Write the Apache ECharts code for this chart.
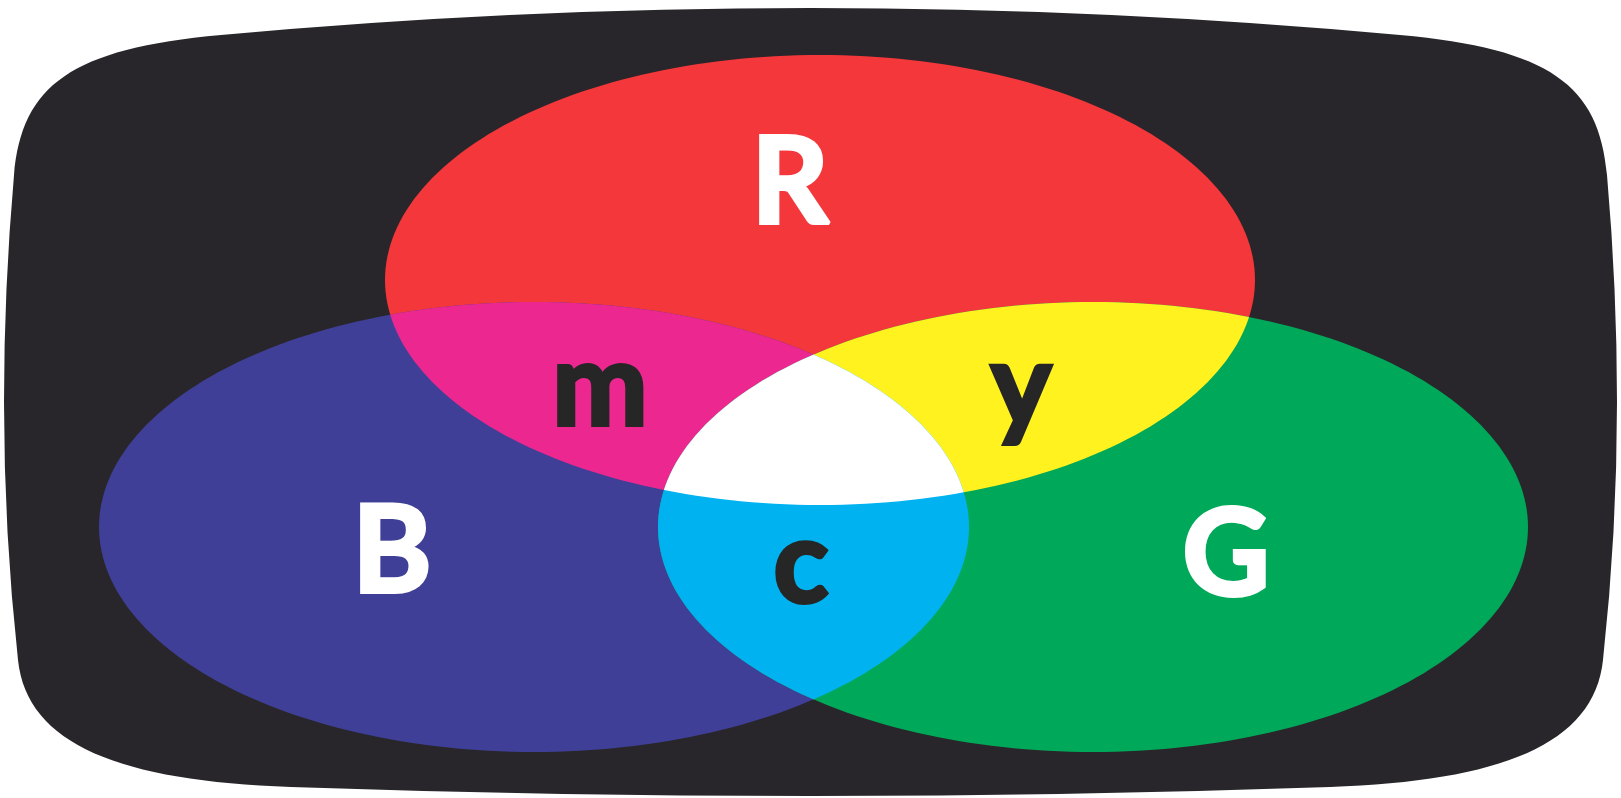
<!DOCTYPE html>
<html>
<head>
<meta charset="utf-8">
<script src="https://cdn.jsdelivr.net/npm/echarts@6/dist/echarts.min.js"></script>
<style>
html,body{margin:0;padding:0;background:#ffffff;}
#c{width:1621px;height:798px;}
</style>
</head>
<body>
<div id="c"></div>
<script>
// ---- data (units: positions on a 1621 x 798 plane) ----
const setNames = ['R', 'B', 'G'];
const setCenterX = [820, 534, 1093];
const setCenterY = [280, 527, 527];
const setRadiusX = [435, 435, 435];
const setRadiusY = [225, 225, 225];
const setColors = ['#F3373A', '#3F3F97', '#00A859'];

const overlapSets = [[0, 1], [0, 2], [1, 2], [0, 1, 2]];
const overlapColors = ['#EC2890', '#FFF21F', '#00B3F0', '#FFFFFF'];

const labelText = ['R', 'B', 'G', 'm', 'y', 'c'];
const labelX = [790, 392, 1226, 600, 1021, 801];
const labelY = [184, 553, 556, 388, 388, 565];
const labelIsUpper = [1, 1, 1, 0, 0, 0];

const frameBox = [4, 8, 1617, 796];

// ---- helpers ----
function ellipsePoly(c, s, n) {
  const pts = [];
  for (let k = 0; k < n; k++) {
    const t = 2 * Math.PI * k / n;
    pts.push([c[0] + s[0] * Math.cos(t), c[1] + s[1] * Math.sin(t)]);
  }
  return pts;
}
function cross(ax, ay, bx, by) { return ax * by - ay * bx; }
function clipPoly(subject, clipP) {
  let area = 0;
  const n = clipP.length;
  for (let i = 0; i < n; i++) {
    const a = clipP[i], b = clipP[(i + 1) % n];
    area += a[0] * b[1] - b[0] * a[1];
  }
  const sg = area > 0 ? 1 : -1;
  let out = subject;
  for (let i = 0; i < n; i++) {
    if (!out.length) break;
    const a = clipP[i], b = clipP[(i + 1) % n];
    const dx = b[0] - a[0], dy = b[1] - a[1];
    const inside = p => sg * cross(dx, dy, p[0] - a[0], p[1] - a[1]) >= 0;
    const inter = (p, q) => {
      const t = cross(dx, dy, a[0] - p[0], a[1] - p[1]) / cross(dx, dy, q[0] - p[0], q[1] - p[1]);
      return [p[0] + t * (q[0] - p[0]), p[1] + t * (q[1] - p[1])];
    };
    const inp = out;
    out = [];
    for (let j = 0; j < inp.length; j++) {
      const p = inp[j], q = inp[(j + 1) % inp.length];
      const pi = inside(p), qi = inside(q);
      if (pi) { out.push(p); if (!qi) out.push(inter(p, q)); }
      else if (qi) out.push(inter(p, q));
    }
  }
  return out;
}
function setPixelPoly(api, i) {
  const c = api.coord([setCenterX[i], setCenterY[i]]);
  const s = api.size([setRadiusX[i], setRadiusY[i]]);
  return ellipsePoly(c, [Math.abs(s[0]), Math.abs(s[1])], 240);
}

function framePath(api, box) {
  const x0 = box[0], y0 = box[1], x1 = box[2], y1 = box[3];
  const mx = (x0 + x1) / 2, my = (y0 + y1) / 2;
  const P = (x, y) => api.coord([x, y]);
  const M = x => x0 + x1 - x; // mirror
  const e1 = [x1 - 217, y0 + 27];
  const seg = [];
  seg.push(['Q', [(mx + e1[0]) / 2, y0], e1]);
  seg.push(['C', [x1 - 67, y0 + 40.7], [x1 - 18, y0 + 77], [x1 - 10, y0 + 167]]);
  seg.push(['Q', [x1, (y0 + 167 + my) / 2], [x1, my]]);
  seg.push(['Q', [x1, my + 130], [x1 - 14, y1 - 136]]);
  seg.push(['C', [x1 - 23, y1 - 51], [x1 - 117, y1 - 15], [x1 - 287, y1 - 9]]);
  seg.push(['Q', [(x1 - 287 + mx) / 2, y1], [mx, y1]]);
  let d = '';
  const p0 = P(mx, y0);
  d += 'M' + p0[0] + ' ' + p0[1];
  const fmt = pts => pts.map(q => { const c = P(q[0], q[1]); return c[0] + ' ' + c[1]; }).join(' ');
  seg.forEach(s => { d += ' ' + s[0] + fmt(s.slice(1)); });
  for (let k = seg.length - 1; k >= 0; k--) {
    const s = seg[k];
    const start = k === 0 ? [mx, y0] : seg[k - 1][seg[k - 1].length - 1];
    const ctrls = s.slice(1, s.length - 1).slice().reverse();
    const mapped = ctrls.concat([start]).map(q => [M(q[0]), q[1]]);
    d += ' ' + s[0] + fmt(mapped);
  }
  d += ' Z';
  return d;
}

// ---- chart ----
const chart = echarts.init(document.getElementById('c'));
const option = {
  animation: false,
  backgroundColor: '#ffffff',
  grid: { left: 0, right: 0, top: 0, bottom: 0 },
  xAxis: { type: 'value', min: 0, max: 1621, show: false },
  yAxis: { type: 'value', min: 0, max: 798, inverse: true, show: false },
  series: [
    {
      type: 'custom', name: 'frame', z: 1, silent: true,
      data: [frameBox],
      renderItem: function (params, api) {
        return { type: 'path', shape: { pathData: framePath(api, frameBox) }, style: { fill: '#28262A' } };
      }
    },
    {
      type: 'custom', name: 'sets', z: 2, silent: true,
      data: setNames.map((n, i) => [setCenterX[i], setCenterY[i], setRadiusX[i], setRadiusY[i]]),
      renderItem: function (params, api) {
        const i = params.dataIndex;
        return { type: 'polygon', shape: { points: setPixelPoly(api, i) }, style: { fill: setColors[i] } };
      }
    },
    {
      type: 'custom', name: 'overlaps', z: 3, silent: true,
      data: overlapSets.map((s, i) => [i]),
      renderItem: function (params, api) {
        const i = params.dataIndex;
        const ids = overlapSets[i];
        let poly = setPixelPoly(api, ids[0]);
        for (let k = 1; k < ids.length; k++) poly = clipPoly(poly, setPixelPoly(api, ids[k]));
        return { type: 'polygon', shape: { points: poly }, style: { fill: overlapColors[i] } };
      }
    },
    {
      type: 'custom', name: 'labels', z: 4, silent: true,
      data: labelText.map((t, i) => [labelX[i], labelY[i]]),
      renderItem: function (params, api) {
        const i = params.dataIndex;
        const p = api.coord([api.value(0), api.value(1)]);
        const up = labelIsUpper[i] === 1;
        const col = up ? '#FFFFFF' : '#262626';
        return {
          type: 'text', x: p[0], y: p[1],
          style: {
            text: labelText[i], align: 'center', verticalAlign: 'middle',
            fill: col, stroke: col, lineWidth: 4, lineJoin: 'round',
            font: (up ? 'bold 120px' : 'bold 114px') + ' Lato, "Open Sans", sans-serif'
          }
        };
      }
    }
  ]
};
chart.setOption(option);
</script>
</body>
</html>
